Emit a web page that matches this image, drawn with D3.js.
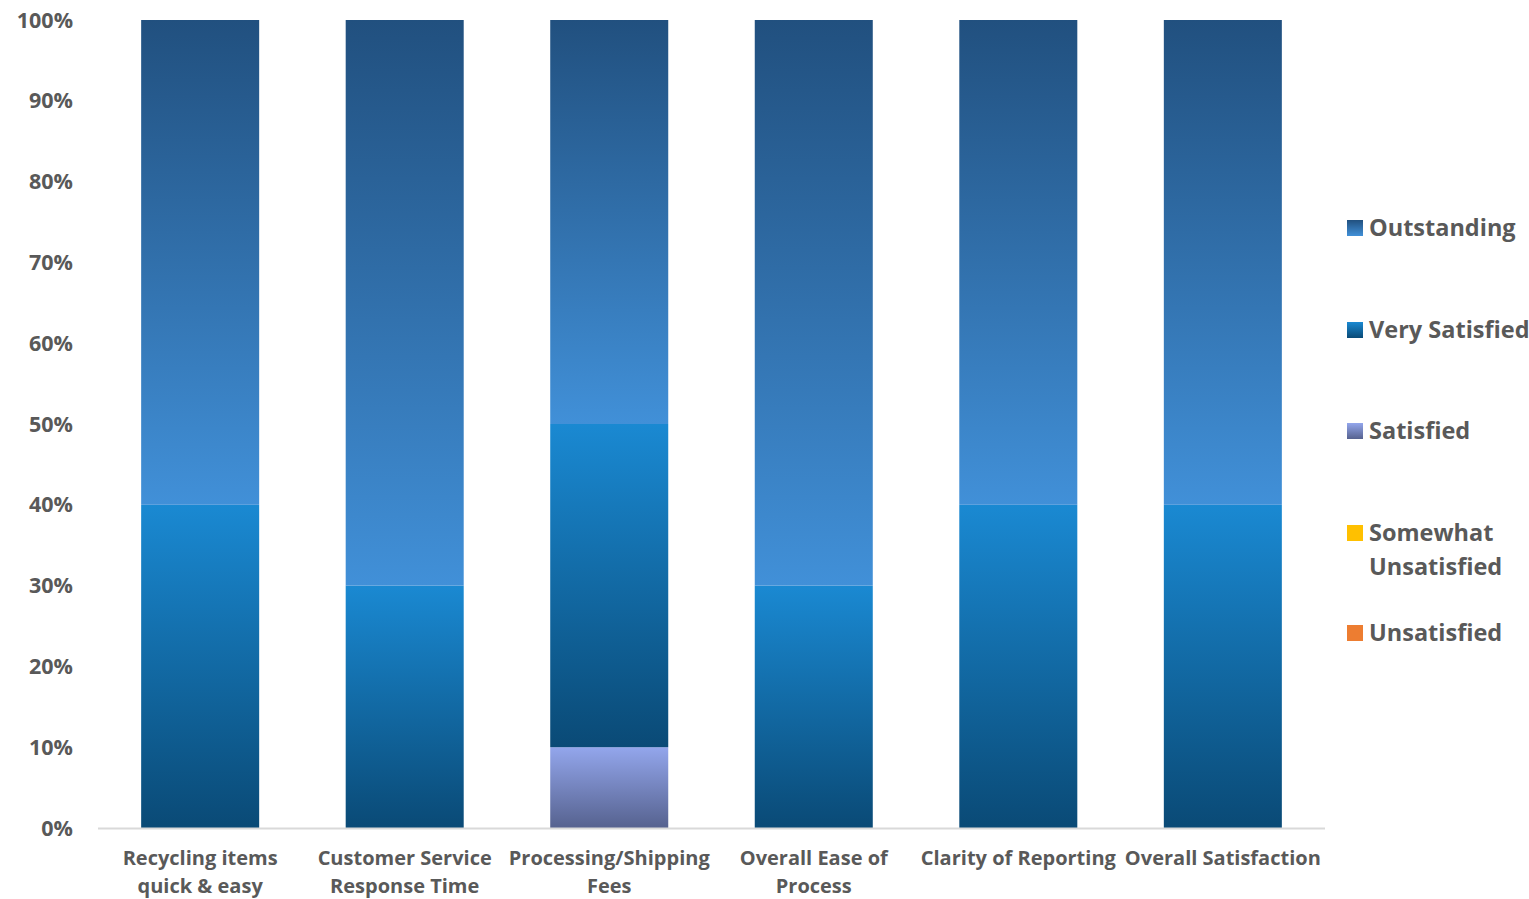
<!DOCTYPE html>
<html>
<head>
<meta charset="utf-8">
<script src="https://cdn.jsdelivr.net/npm/d3@7"></script>
<style>
  body { margin: 0; background: #fff; }
  text { font-family: "Open Sans", "Noto Sans", sans-serif; font-weight: 700; fill: #595959; }
</style>
</head>
<body>
<svg id="chart" width="1529" height="899"></svg>
<script>
// data (percent of responses)
const categories = [
  ['Recycling items', 'quick & easy'],
  ['Customer Service', 'Response Time'],
  ['Processing/Shipping', 'Fees'],
  ['Overall Ease of', 'Process'],
  ['Clarity of Reporting'],
  ['Overall Satisfaction']
];
const seriesNames = ['Unsatisfied', 'Somewhat Unsatisfied', 'Satisfied', 'Very Satisfied', 'Outstanding'];
const unsatisfied = [0, 0, 0, 0, 0, 0];
const somewhatUnsatisfied = [0, 0, 0, 0, 0, 0];
const satisfied = [0, 0, 10, 0, 0, 0];
const verySatisfied = [40, 30, 40, 30, 40, 40];
const outstanding = [60, 70, 50, 70, 60, 60];
const yTicks = [0, 10, 20, 30, 40, 50, 60, 70, 80, 90, 100];

const seriesValues = [unsatisfied, somewhatUnsatisfied, satisfied, verySatisfied, outstanding];

// gradient stops per series (top colour, bottom colour)
const grads = {
  'Outstanding': ['#21507f', '#4190d8'],
  'Very Satisfied': ['#1a89d2', '#0a4a76'],
  'Satisfied': ['#93a6ec', '#56628f'],
  'Somewhat Unsatisfied': ['#ffc000', '#ffc000'],
  'Unsatisfied': ['#ed7d31', '#ed7d31']
};

const svg = d3.select('#chart');
const margin = {left: 98, right: 1325, top: 20, bottom: 828};

const rows = categories.map((c, i) => {
  const r = {key: i};
  seriesNames.forEach((s, j) => r[s] = seriesValues[j][i]);
  return r;
});

const x = d3.scaleBand()
  .domain(d3.range(categories.length))
  .range([margin.left, margin.right])
  .paddingInner(0.423)
  .paddingOuter(0.211);

const y = d3.scaleLinear().domain([0, 100]).range([margin.bottom, margin.top]);

const defs = svg.append('defs');
seriesNames.forEach((s, i) => {
  const g = defs.append('linearGradient')
    .attr('id', 'g' + i)
    .attr('x1', 0).attr('y1', 0).attr('x2', 0).attr('y2', 1);
  g.append('stop').attr('offset', '0%').attr('stop-color', grads[s][0]);
  g.append('stop').attr('offset', '100%').attr('stop-color', grads[s][1]);
});

const stack = d3.stack().keys(seriesNames)(rows);

svg.append('g').selectAll('g')
  .data(stack)
  .join('g')
  .attr('fill', (d, i) => `url(#g${i})`)
  .selectAll('rect')
  .data(d => d.filter(v => v[1] - v[0] > 0))
  .join('rect')
  .attr('x', d => x(d.data.key))
  .attr('y', d => y(d[1]))
  .attr('width', x.bandwidth())
  .attr('height', d => y(d[0]) - y(d[1]));

// baseline
svg.append('line')
  .attr('x1', margin.left).attr('x2', margin.right)
  .attr('y1', y(0) + 0.5).attr('y2', y(0) + 0.5)
  .attr('stroke', '#d9d9d9').attr('stroke-width', 2);

// y labels
svg.append('g').selectAll('text')
  .data(yTicks)
  .join('text')
  .attr('x', 73)
  .attr('y', d => y(d))
  .attr('dy', '0.35em')
  .attr('text-anchor', 'end')
  .style('font-size', '21.5px')
  .text(d => d + '%');

// x labels
const xl = svg.append('g').selectAll('text')
  .data(categories)
  .join('text')
  .attr('text-anchor', 'middle')
  .attr('x', (d, i) => x(i) + x.bandwidth() / 2)
  .attr('y', 865)
  .style('font-size', '20px');
xl.selectAll('tspan')
  .data(d => d)
  .join('tspan')
  .attr('x', function() { return this.parentNode.getAttribute('x'); })
  .attr('dy', (d, i) => i ? 28 : 0)
  .text(d => d);

// legend (top to bottom: Outstanding first)
const legendItems = [
  {name: 'Outstanding', lines: ['Outstanding'], y: 228},
  {name: 'Very Satisfied', lines: ['Very Satisfied'], y: 330},
  {name: 'Satisfied', lines: ['Satisfied'], y: 431},
  {name: 'Somewhat Unsatisfied', lines: ['Somewhat', 'Unsatisfied'], y: 533},
  {name: 'Unsatisfied', lines: ['Unsatisfied'], y: 633}
];
const lg = svg.append('g').selectAll('g')
  .data(legendItems)
  .join('g')
  .attr('transform', d => `translate(1347,${d.y})`);
lg.append('rect')
  .attr('x', 0).attr('y', -8)
  .attr('width', 16).attr('height', 16)
  .attr('fill', d => `url(#g${seriesNames.indexOf(d.name)})`);
lg.append('text')
  .attr('x', 22)
  .attr('y', 8)
  .style('font-size', '23.5px')
  .selectAll('tspan')
  .data(d => d.lines)
  .join('tspan')
  .attr('x', 22)
  .attr('dy', (d, i) => i ? 34 : 0)
  .text(d => d);
</script>
</body>
</html>
